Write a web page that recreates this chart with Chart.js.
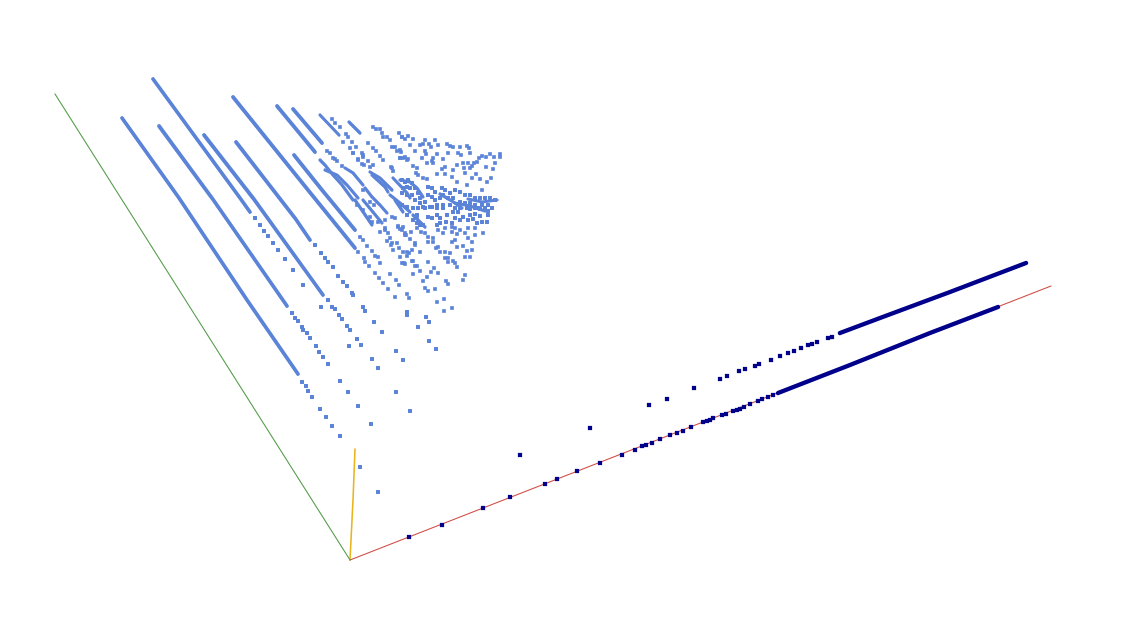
<!DOCTYPE html>
<html>
<head>
<meta charset="utf-8">
<title>scatter</title>
<script src="https://cdn.jsdelivr.net/npm/chart.js@4"></script>
<style>
  html, body { margin: 0; padding: 0; background: #fff; }
  canvas { display: block; }
</style>
</head>
<body>
<canvas id="chart1" width="1146" height="632"></canvas>
<script>
// values as [x, y] pairs
const axisGreen = [[350, 560], [55, 94]];
const axisRed = [[350, 560], [1051, 286]];
const axisYellow = [[350, 560], [353, 500], [355, 449]];

const darkRuns = [
  [[840, 333], [880, 318], [950, 292], [1026, 263]],
  [[778, 393], [850, 365], [930, 333], [998, 307]]
];
const darkDots = [
  [409, 537], [442, 525], [483, 508], [510, 497], [545, 484], [557, 479], [577, 471], [600, 463],
  [622, 455], [635, 450], [642, 446], [646, 445], [652, 443], [660, 439], [670, 435], [677, 433],
  [683, 431], [691, 427], [703, 422], [707, 421], [710, 420], [713, 418], [722, 415], [726, 414],
  [733, 411], [737, 410], [740, 409], [744, 407], [750, 404], [758, 401], [762, 399], [768, 397],
  [773, 395],
  [520, 455], [590, 428], [649, 405], [667, 399], [694, 388], [720, 379], [727, 376], [739, 371],
  [745, 369], [755, 366], [759, 364], [771, 360], [780, 356], [788, 353], [794, 351], [801, 348],
  [808, 345], [812, 344], [817, 342], [828, 338], [832, 337]
];

const blueRuns = [
  [[122, 118], [179, 198], [247, 300], [298, 374]],
  [[159, 126], [212, 198], [287, 306]],
  [[153, 79], [240, 198], [250, 212]],
  [[204, 135], [253, 198], [323, 295]],
  [[236, 142], [295, 218], [310, 240]],
  [[233, 97], [308, 190], [355, 248]],
  [[294, 155], [322, 190], [355, 230]],
  [[277, 106], [315, 152]],
  [[293, 109], [322, 143]]
];

const clusterRuns = [
  [[320, 115], [339, 135]],
  [[349, 122], [360, 133]],
  [[320, 160], [325, 165], [333, 175], [342, 185], [353, 200]],
  [[325, 170], [337, 175], [347, 185], [358, 198]],
  [[345, 168], [353, 173], [363, 185]],
  [[365, 188], [372, 197], [380, 205], [387, 213]],
  [[370, 172], [380, 178], [392, 190]],
  [[372, 175], [385, 187], [388, 192]],
  [[393, 178], [407, 193], [410, 198]],
  [[400, 180], [410, 182], [417, 188], [423, 197]],
  [[390, 195], [400, 203], [410, 212]],
  [[355, 200], [372, 225]],
  [[363, 200], [382, 223]],
  [[395, 200], [403, 212]],
  [[413, 215], [425, 227]],
  [[440, 194], [452, 201], [462, 208]],
  [[468, 199], [482, 202], [497, 200]],
  [[455, 203], [470, 206], [485, 211]]
];

const tailDots = [
  [302, 382], [306, 386], [308, 391], [312, 397], [320, 409], [326, 417], [332, 426], [340, 436],
  [292, 313], [295, 318], [298, 321], [302, 327], [303, 330], [307, 333], [310, 338], [316, 346],
  [319, 352], [323, 357], [328, 364], [340, 381], [348, 392], [358, 406], [371, 424],
  [255, 218], [260, 225], [264, 231], [268, 236], [273, 243], [278, 250], [285, 259], [293, 270],
  [303, 285], [321, 307], [349, 346], [372, 359], [396, 351], [403, 360],
  [328, 300], [332, 307], [335, 309], [339, 315], [342, 319], [347, 326], [350, 330], [357, 339],
  [361, 345], [378, 368], [396, 392], [410, 411],
  [315, 245], [321, 253], [325, 258], [328, 262], [333, 267], [338, 276], [343, 282], [347, 286],
  [352, 293], [353, 295], [363, 307], [365, 311], [374, 322], [382, 332], [407, 312], [407, 315],
  [418, 327], [426, 317], [429, 322], [429, 341], [436, 349], [360, 467], [378, 492]
];

const clusterTop = [
  [402, 137], [408, 136], [413, 139], [410, 145], [415, 151], [420, 145], [423, 144], [425, 140],
  [429, 144], [431, 147], [435, 140], [438, 145], [447, 144], [450, 146], [453, 147], [460, 147],
  [467, 146], [469, 148], [458, 153], [461, 155], [470, 153], [448, 153], [437, 154], [425, 151],
  [426, 154], [422, 158], [433, 158], [432, 161], [427, 163], [433, 163], [443, 159], [400, 150],
  [400, 158], [403, 158], [408, 159], [413, 166], [417, 168], [416, 173], [418, 175], [423, 178],
  [427, 179], [437, 174], [442, 169], [445, 167], [445, 174], [453, 170], [452, 177], [457, 182],
  [457, 165], [463, 163], [464, 168], [468, 163], [472, 166], [474, 163], [477, 162], [479, 158],
  [482, 156], [486, 157], [490, 154], [494, 157], [500, 154], [500, 157], [495, 163], [493, 169],
  [491, 178], [487, 182], [480, 179], [476, 174], [470, 168], [465, 173], [467, 185], [472, 178],
  [482, 190], [486, 167]
];

const clusterMiddle = [
  [402, 180], [405, 182], [408, 180], [412, 183], [407, 187], [410, 188], [415, 188], [403, 188],
  [402, 193], [407, 195], [412, 195], [418, 193], [420, 198], [415, 200], [420, 203], [425, 202],
  [428, 187], [432, 188], [435, 192], [442, 188], [445, 190], [450, 193], [455, 190], [460, 192],
  [465, 195], [470, 195], [475, 198], [480, 198], [485, 198], [490, 198], [495, 200], [443, 195],
  [440, 198], [435, 200], [432, 197], [428, 195], [448, 198], [453, 198], [460, 202], [465, 203],
  [470, 203], [475, 205], [482, 205], [488, 205], [437, 205], [443, 205], [450, 205], [430, 207],
  [425, 208], [455, 208], [467, 208], [480, 209], [475, 208],
  [402, 205], [407, 207], [413, 208], [418, 208], [423, 207], [432, 207], [437, 208], [443, 208],
  [460, 208], [470, 209], [478, 208], [485, 208], [488, 211],
  [407, 215], [417, 215], [428, 217], [432, 218], [437, 215], [440, 218], [447, 215], [453, 212],
  [458, 212], [463, 217], [470, 215], [475, 214], [480, 216], [488, 215], [492, 208],
  [413, 220], [417, 223], [420, 225], [423, 225], [437, 225], [440, 223], [446, 222], [452, 223],
  [455, 218], [460, 220], [468, 220], [473, 219], [477, 223], [482, 222], [487, 222]
];

const clusterLower = [
  [400, 229], [405, 233], [417, 228], [421, 232], [425, 233], [438, 230], [445, 228], [452, 227],
  [455, 228], [460, 230], [465, 233], [468, 228], [475, 228], [483, 233], [443, 233], [452, 232],
  [457, 234], [468, 238], [475, 235], [463, 246], [457, 247], [452, 242], [455, 240], [472, 242],
  [410, 239], [415, 243], [428, 237], [433, 238], [428, 242], [433, 242], [438, 247], [436, 248],
  [445, 252], [440, 252], [450, 253], [448, 258], [445, 258], [403, 252], [409, 253], [415, 245],
  [420, 252], [467, 251], [472, 250], [470, 257], [465, 257], [457, 267], [400, 257], [407, 256],
  [413, 261], [402, 263], [405, 264], [428, 262], [434, 268], [415, 266], [453, 261], [455, 263],
  [448, 262], [431, 272], [438, 273], [427, 277], [423, 281], [425, 288], [428, 291], [435, 289],
  [446, 281], [448, 284], [465, 275], [463, 280], [444, 299], [437, 302], [444, 311], [452, 308]
];

const clusterLeft = [
  [343, 142], [350, 148], [353, 153], [358, 160], [368, 161], [370, 167],
  [332, 119], [335, 123], [340, 127], [346, 134], [348, 137], [352, 142], [356, 147], [362, 153],
  [363, 157], [373, 127], [376, 129], [380, 129], [382, 133], [383, 137], [387, 137], [390, 140],
  [392, 147], [395, 147], [368, 143], [373, 148], [376, 151], [383, 160], [397, 151], [401, 152],
  [400, 158], [392, 168], [393, 171], [399, 133], [402, 137], [405, 139],
  [327, 151], [330, 153], [333, 158], [337, 161], [342, 166], [335, 159], [353, 153], [358, 159],
  [363, 155], [362, 164], [364, 165], [373, 165], [380, 156], [391, 167], [405, 157], [407, 160],
  [370, 202], [374, 205], [363, 190], [357, 205], [363, 210], [370, 217], [372, 222], [378, 222],
  [385, 220], [392, 217], [395, 218], [380, 232], [385, 230], [390, 238], [398, 227], [403, 227],
  [405, 235], [411, 232], [417, 218], [420, 225],
  [360, 237], [363, 240], [367, 246], [372, 251], [358, 252], [375, 256], [378, 257], [380, 263],
  [364, 258], [365, 262], [369, 266], [375, 273], [379, 278], [383, 283], [388, 289], [390, 274],
  [396, 280], [399, 285], [395, 297], [407, 294], [409, 298], [398, 226], [402, 230], [406, 235],
  [385, 228], [388, 233], [387, 241], [391, 245], [393, 250], [392, 243], [397, 243], [399, 248],
  [407, 252], [412, 250], [412, 261], [417, 266], [420, 271], [413, 274], [404, 263]
];

function toPoints(list) {
  return list.map(function (p) { return { x: p[0], y: p[1] }; });
}

function lineSet(list, color, width) {
  return {
    data: toPoints(list),
    showLine: true,
    borderColor: color,
    borderWidth: width,
    borderCapStyle: 'round',
    pointRadius: 0,
    tension: 0
  };
}

function dotSet(list, color, radius) {
  return {
    data: toPoints(list),
    showLine: false,
    backgroundColor: color,
    borderWidth: 0,
    pointStyle: 'rect',
    pointRadius: radius
  };
}

const blue = '#5b84d9';
const navy = '#00008b';

const datasets = [];
darkRuns.forEach(function (run) { datasets.push(lineSet(run, navy, 4.5)); });
datasets.push(dotSet(darkDots, navy, 3));
blueRuns.forEach(function (run) { datasets.push(lineSet(run, blue, 3.8)); });
clusterRuns.forEach(function (run) { datasets.push(lineSet(run, blue, 3.2)); });
datasets.push(dotSet(tailDots, blue, 2.8));
datasets.push(dotSet(clusterTop, blue, 2.6));
datasets.push(dotSet(clusterMiddle, blue, 2.8));
datasets.push(dotSet(clusterLower, blue, 2.6));
datasets.push(dotSet(clusterLeft, blue, 2.6));
datasets.push(lineSet(axisGreen, '#5a9f50', 1.2));
datasets.push(lineSet(axisRed, '#cf4f47', 1.2));
datasets.push(lineSet(axisYellow, '#e8b51f', 1.6));

const ctx = document.getElementById('chart1');
new Chart(ctx, {
  type: 'scatter',
  data: { datasets: datasets },
  options: {
    responsive: false,
    animation: false,
    layout: { padding: 0, autoPadding: false },
    scales: {
      x: { type: 'linear', min: 0, max: 1146, display: false },
      y: { type: 'linear', min: 0, max: 632, reverse: true, display: false }
    },
    plugins: {
      legend: { display: false },
      tooltip: { enabled: false }
    }
  }
});
</script>
</body>
</html>
